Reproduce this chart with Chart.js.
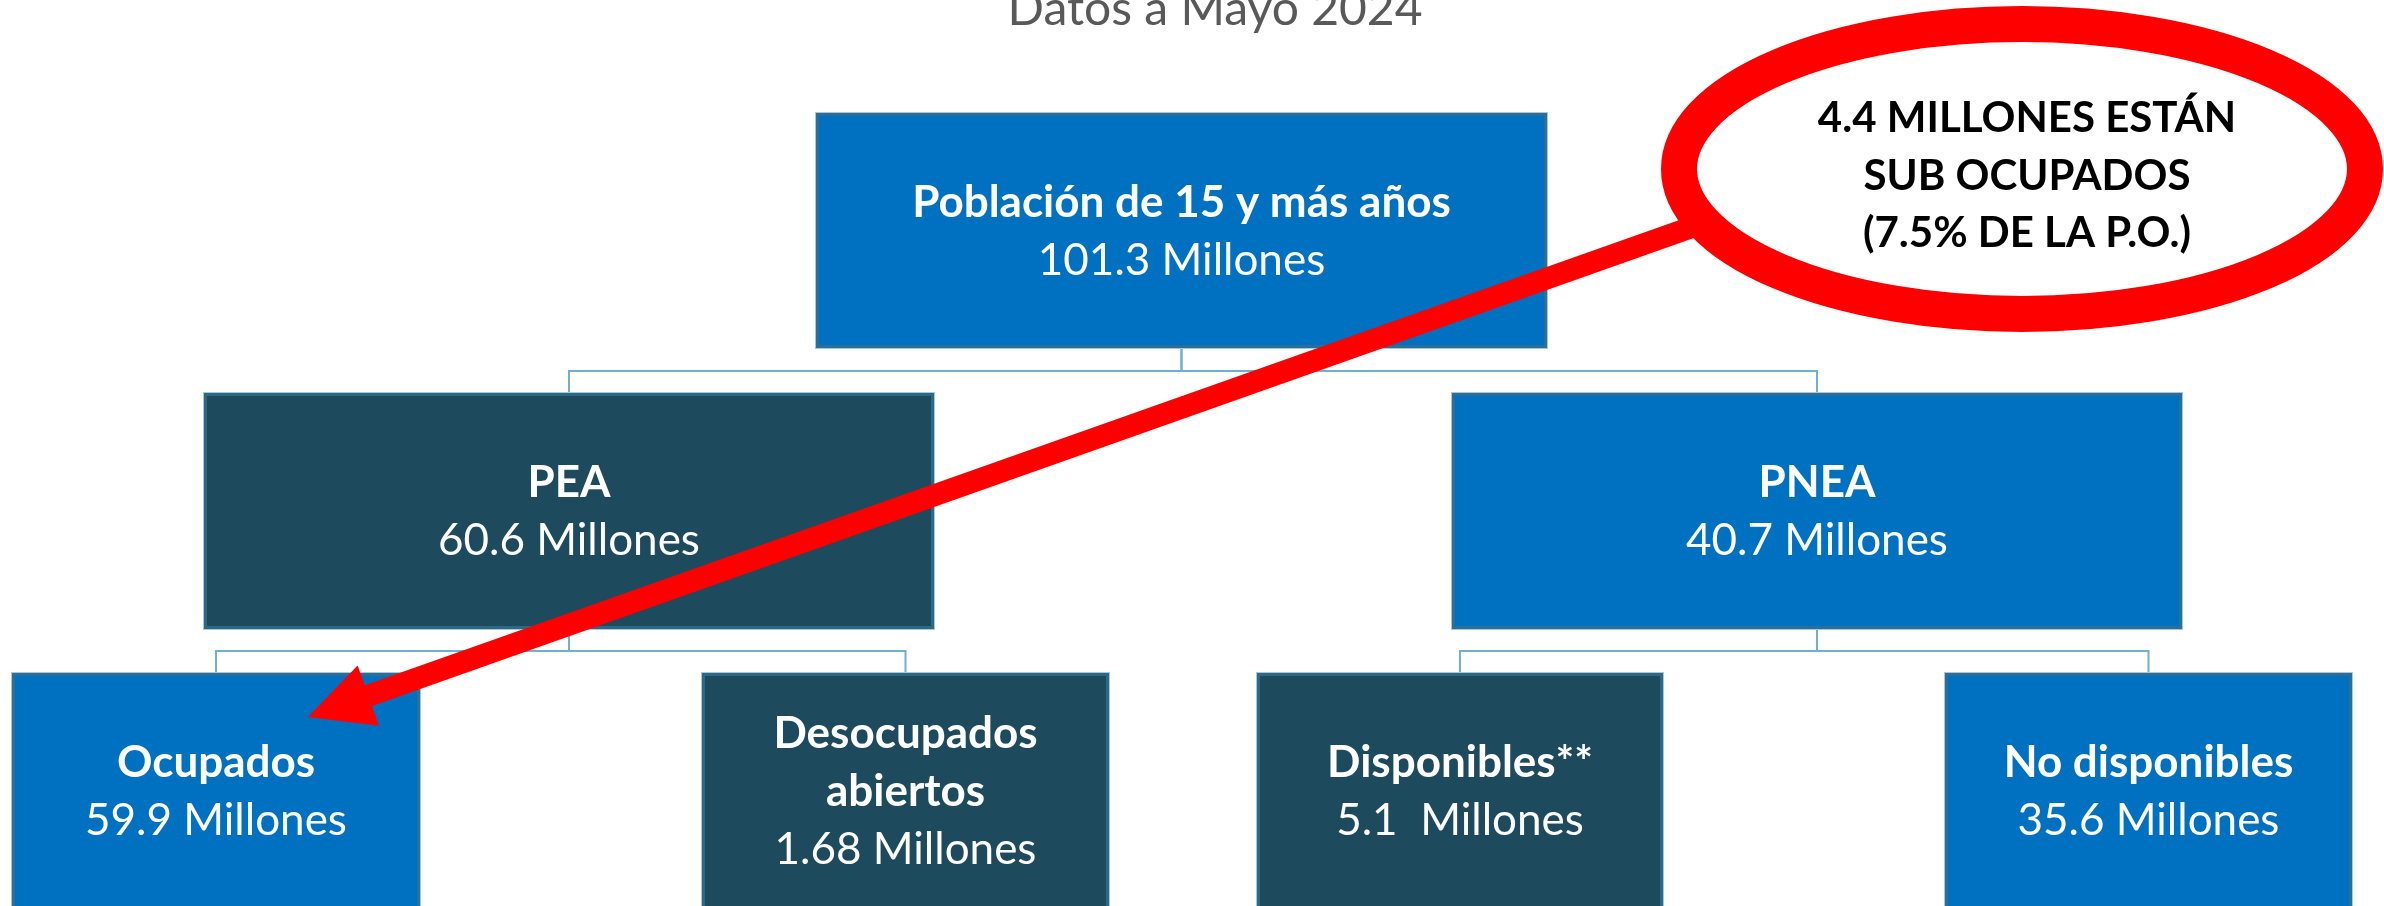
<!DOCTYPE html>
<html>
<head>
<meta charset="utf-8">
<script src="https://cdn.jsdelivr.net/npm/chart.js@4/dist/chart.umd.min.js"></script>
<style>
  html, body { margin: 0; padding: 0; background: #fff; }
  #wrap { width: 2384px; height: 906px; }
</style>
</head>
<body>
<div id="wrap"><canvas id="myChart" width="2384" height="906"></canvas></div>
<script>
// data
const subtitle = "Datos a Mayo 2024";
const nodeNames = ["Población de 15 y más años", "PEA", "PNEA", "Ocupados", "Desocupados abiertos", "Disponibles**", "No disponibles"];
const nodeMillions = [101.3, 60.6, 40.7, 59.9, 1.68, 5.1, 35.6];
const nodeParents = [null, 0, 0, 1, 1, 2, 2];
const subOcupadosMillions = 4.4;
const subOcupadosPct = 7.5;

// layout (chart units, 1 unit = 1px)
const boxes = [
  [816, 113, 1547, 348],
  [204, 393, 934, 629],
  [1452, 393, 2182, 629],
  [12, 673, 420, 909],
  [702, 673, 1109, 909],
  [1257, 673, 1663, 909],
  [1945, 673, 2352, 909],
];
const dark = [false, true, false, false, true, true, false];
const connectorY = [371, 651];
const ellipseBox = { cx: 2022, cy: 169, rx: 343, ry: 145 };
const arrowFrom = { x: 1712, y: 220 };
const arrowTo = { x: 308, y: 717 };

const FONT = "Lato, 'Open Sans', sans-serif";
const BLUE = "#0070C0";
const TEAL = "#1D4A5D";

const treePlugin = {
  id: "tree",
  afterDraw(chart) {
    const ctx = chart.ctx;
    const sx = chart.scales.x, sy = chart.scales.y;
    const px = (v) => sx.getPixelForValue(v);
    const py = (v) => sy.getPixelForValue(v);
    ctx.save();

    // subtitle (cut at the top like the slide)
    ctx.fillStyle = "#595959";
    ctx.font = "48px " + FONT;
    ctx.textAlign = "center";
    ctx.textBaseline = "alphabetic";
    ctx.fillText(subtitle, px(1215), py(25));

    // connectors
    ctx.strokeStyle = "#6EB0CD";
    ctx.lineWidth = 2;
    nodeParents.forEach((p, i) => {
      if (p === null) return;
      const pb = boxes[p], cb = boxes[i];
      const pcx = (pb[0] + pb[2]) / 2, ccx = (cb[0] + cb[2]) / 2;
      const level = p === 0 ? 0 : 1;
      const my = connectorY[level];
      ctx.beginPath();
      ctx.moveTo(px(pcx), py(pb[3]));
      ctx.lineTo(px(pcx), py(my));
      ctx.lineTo(px(ccx), py(my));
      ctx.lineTo(px(ccx), py(cb[1]));
      ctx.stroke();
    });

    // boxes
    boxes.forEach((b, i) => {
      const x0 = px(b[0]), y0 = py(b[1]), x1 = px(b[2]), y1 = py(b[3]);
      ctx.fillStyle = dark[i] ? TEAL : BLUE;
      ctx.fillRect(x0, y0, x1 - x0, y1 - y0);
      ctx.strokeStyle = "#A9C9D9";
      ctx.lineWidth = 1;
      ctx.strokeRect(x0 - 0.5, y0 - 0.5, x1 - x0 + 1, y1 - y0 + 1);
      ctx.strokeStyle = dark[i] ? "#2B6A86" : "#2A6E9A";
      ctx.lineWidth = 3;
      ctx.strokeRect(x0 + 1.5, y0 + 1.5, x1 - x0 - 3, y1 - y0 - 3);

      // text
      ctx.font = "bold 44px " + FONT;
      const words = nodeNames[i].split(" ");
      const maxW = (x1 - x0) - 60;
      const lines = [];
      let cur = "";
      words.forEach((w) => {
        const t = cur ? cur + " " + w : w;
        if (cur && ctx.measureText(t).width > maxW) { lines.push(cur); cur = w; }
        else cur = t;
      });
      lines.push(cur);
      const all = lines.map((l) => ({ t: l, bold: true }));
      const vtxt = (i === 5 ? nodeMillions[i] + "  Millones" : nodeMillions[i] + " Millones");
      all.push({ t: vtxt, bold: false });
      const cx = (x0 + x1) / 2, cy = (y0 + y1) / 2;
      const gap = 58;
      let base = cy - (all.length - 1) * gap / 2 + 15;
      ctx.fillStyle = "#fff";
      ctx.textAlign = "center";
      all.forEach((l) => {
        ctx.font = (l.bold ? "bold " : "") + "44px " + FONT;
        ctx.fillText(l.t, cx, base);
        base += gap;
      });
    });

    // arrow
    const ax0 = px(arrowFrom.x), ay0 = py(arrowFrom.y), ax1 = px(arrowTo.x), ay1 = py(arrowTo.y);
    const ang = Math.atan2(ay1 - ay0, ax1 - ax0);
    const headLen = 64, headW = 64;
    const bx = ax1 - headLen * Math.cos(ang), by = ay1 - headLen * Math.sin(ang);
    ctx.strokeStyle = "#FF0000";
    ctx.fillStyle = "#FF0000";
    ctx.lineWidth = 22;
    ctx.lineCap = "butt";
    ctx.beginPath();
    ctx.moveTo(ax0, ay0);
    ctx.lineTo(bx + 5 * Math.cos(ang), by + 5 * Math.sin(ang));
    ctx.stroke();
    ctx.beginPath();
    ctx.moveTo(ax1, ay1);
    ctx.lineTo(bx + headW / 2 * Math.sin(ang), by - headW / 2 * Math.cos(ang));
    ctx.lineTo(bx - headW / 2 * Math.sin(ang), by + headW / 2 * Math.cos(ang));
    ctx.closePath();
    ctx.fill();

    // ellipse callout
    const e = ellipseBox;
    ctx.beginPath();
    ctx.ellipse(px(e.cx), py(e.cy), e.rx, e.ry, 0, 0, Math.PI * 2);
    ctx.fillStyle = "#fff";
    ctx.fill();
    ctx.lineWidth = 36;
    ctx.strokeStyle = "#FF0000";
    ctx.stroke();

    const calloutLines = [
      subOcupadosMillions + " MILLONES ESTÁN",
      "SUB OCUPADOS",
      "(" + subOcupadosPct + "% DE LA P.O.)",
    ];
    ctx.fillStyle = "#000";
    ctx.font = "bold 42px " + FONT;
    ctx.textAlign = "center";
    calloutLines.forEach((t, k) => {
      ctx.fillText(t, px(2027), py(132 + k * 57.5));
    });

    ctx.restore();
  },
};

const ctx = document.getElementById("myChart").getContext("2d");
const myChart = new Chart(ctx, {
  type: "scatter",
  data: {
    datasets: [
      {
        label: "nodos",
        data: boxes.map((b) => ({ x: (b[0] + b[2]) / 2, y: (b[1] + b[3]) / 2 })),
        pointRadius: 0,
      },
    ],
  },
  options: {
    responsive: false,
    animation: false,
    devicePixelRatio: 1,
    layout: { padding: 0 },
    plugins: { legend: { display: false }, tooltip: { enabled: false } },
    scales: {
      x: { type: "linear", min: 0, max: 2384, display: false },
      y: { type: "linear", min: 0, max: 906, reverse: true, display: false },
    },
  },
  plugins: [treePlugin],
});
</script>
</body>
</html>
